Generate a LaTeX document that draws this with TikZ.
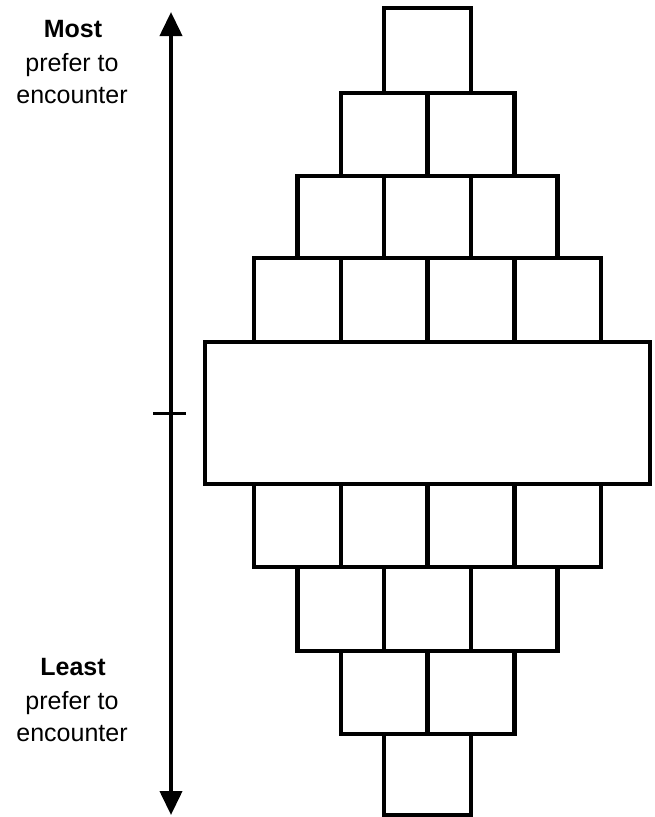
\documentclass[tikz,border=0pt]{standalone}
\usepackage{fontspec}
\setmainfont{Liberation Sans}
\usetikzlibrary{arrows.meta}
\begin{document}
\begin{tikzpicture}[x=1pt,y=-1pt,
  cell/.style={draw=black,line width=4.5pt,line join=miter},
  lbl/.style={font=\fontsize{25}{30}\selectfont,anchor=base,inner sep=0pt},
  axis/.style={line width=4pt,-{Triangle[width=22pt,length=24pt]}}]
\useasboundingbox (0,0) rectangle (654,817);
\def\cx{427.5}
\def\w{86.75}
% rows: {number of cells, top, bottom}
\foreach \n/\t/\b in {1/8/93, 2/93/176, 3/176/258, 4/258/342, 4/484/567, 3/567/651, 2/651/734, 1/734/815}{
  \pgfmathsetmacro{\xl}{\cx-\n*\w/2}
  \foreach \k in {1,...,\n}{
    \pgfmathsetmacro{\xa}{\xl+(\k-1)*\w}
    \pgfmathsetmacro{\xb}{\xl+\k*\w}
    \draw[cell] (\xa,\t) rectangle (\xb,\b);
  }
}
% middle wide box
\draw[cell] (205,342) rectangle (650,484);
% axis
\coordinate (mid) at (171,413);
\coordinate (top) at (171,12);
\coordinate (bot) at (171,815);
\draw[axis] (mid) -- (top);
\draw[axis] (mid) -- (bot);
\draw[line width=3pt] (153,413) -- (186,413);
% labels
\node[lbl] (most) at (73,37) {\textbf{Most}};
\node[lbl] (pref1) at (72,71) {prefer to};
\node[lbl] (enc1) at (72,103) {encounter};
\node[lbl] (least) at (73,675) {\textbf{Least}};
\node[lbl] (pref2) at (72,709) {prefer to};
\node[lbl] (enc2) at (72,741) {encounter};
\end{tikzpicture}
\end{document}
